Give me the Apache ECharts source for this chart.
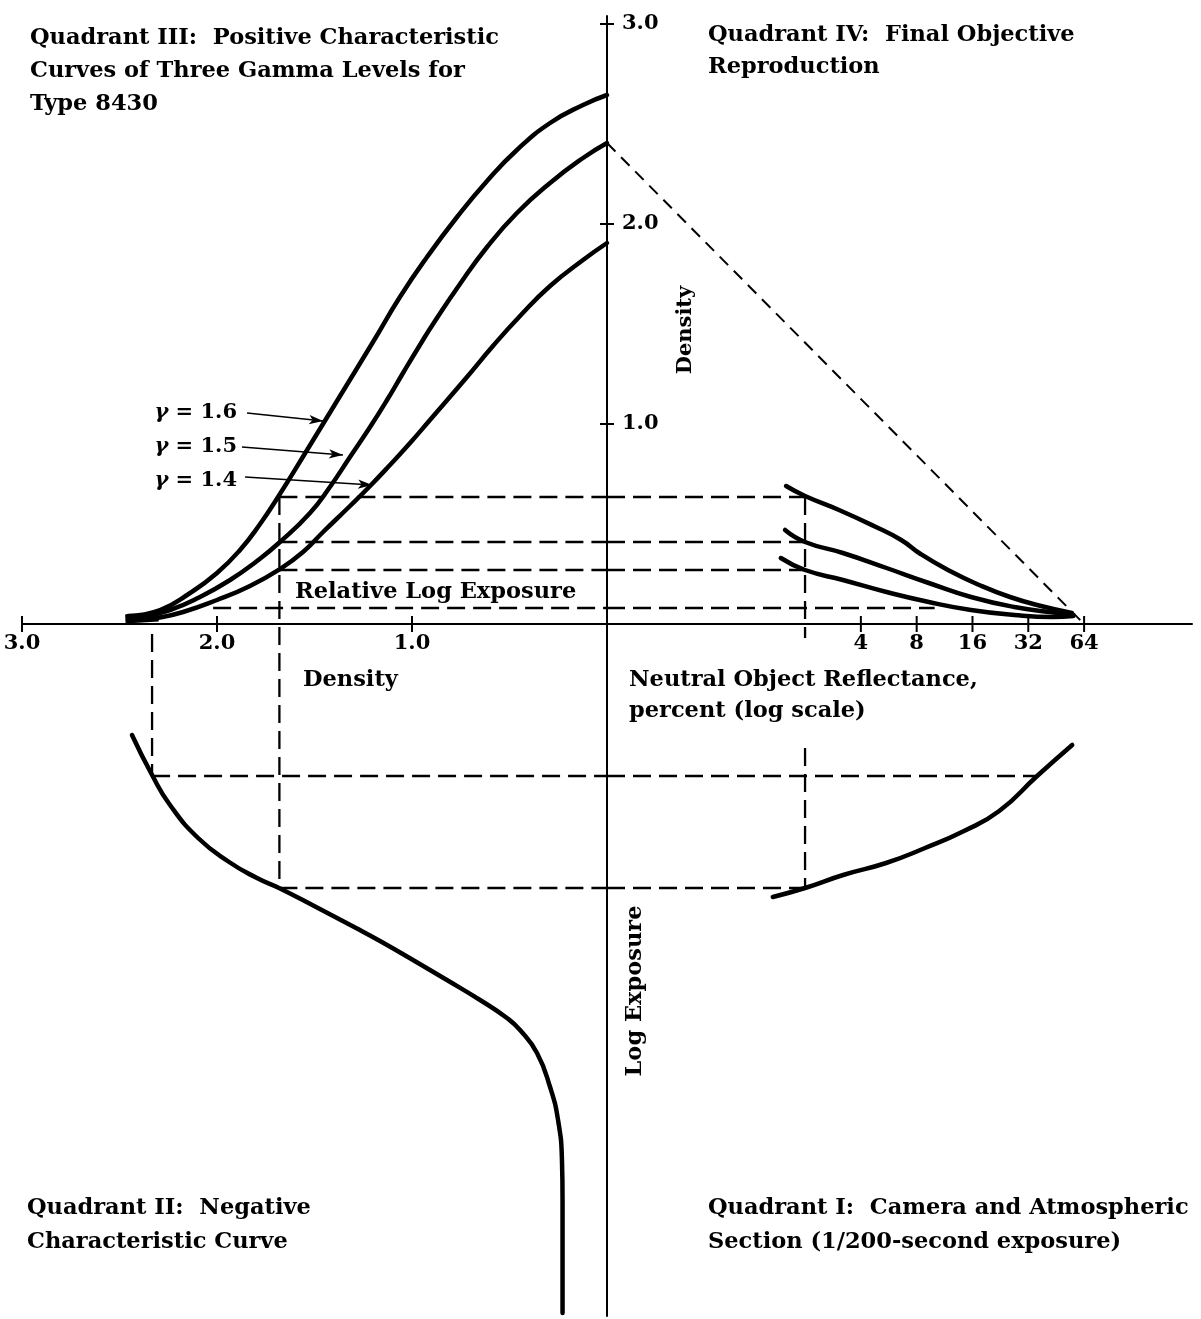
<!DOCTYPE html>
<html>
<head>
<meta charset="utf-8">
<title>Four-quadrant tone reproduction diagram</title>
<script src="https://cdn.jsdelivr.net/npm/echarts@6/dist/echarts.min.js"></script>
<style>
  html, body { margin: 0; padding: 0; background: #fff; }
  #chart { width: 1201px; height: 1319px; }
</style>
</head>
<body>
<div id="chart"></div>
<script>
// Quadrant III: positive curves, relative log exposure (plotted leftwards) vs density
const posLogE16 = [2.456, 2.292, 2.138, 2.0, 1.882, 1.779, 1.687, 1.538, 1.369, 1.2, 1.062, 0.923, 0.769, 0.615, 0.462, 0.292, 0.123, 0]
const posDens16 = [0.04, 0.07, 0.155, 0.255, 0.37, 0.5, 0.635, 0.87, 1.14, 1.41, 1.635, 1.835, 2.035, 2.215, 2.37, 2.505, 2.595, 2.645]
const posLogE15 = [2.421, 2.241, 2.087, 1.933, 1.795, 1.677, 1.523, 1.421, 1.318, 1.215, 1.128, 1.046, 0.95, 0.892, 0.754, 0.615, 0.462, 0.292, 0.123, 0]
const posDens15 = [0.025, 0.07, 0.135, 0.22, 0.315, 0.41, 0.555, 0.685, 0.835, 0.985, 1.12, 1.255, 1.41, 1.5, 1.7, 1.885, 2.055, 2.205, 2.33, 2.405]
const posLogE14 = [2.395, 2.308, 2.174, 2.0, 1.831, 1.677, 1.559, 1.456, 1.318, 1.215, 1.113, 1.01, 0.908, 0.718, 0.585, 0.446, 0.292, 0.123, 0]
const posDens14 = [0.02, 0.03, 0.06, 0.12, 0.19, 0.275, 0.36, 0.46, 0.59, 0.69, 0.795, 0.905, 1.02, 1.235, 1.39, 1.54, 1.69, 1.82, 1.905]
// heavy toe where the three curves start together
const toeLogE = [2.47, 2.3]
const toeDens = [0.025, 0.035]

// Quadrant IV: final reproduction, reflectance (%) vs density
const outRefl16 = [1.58, 2, 3.05, 4.7, 6.6, 8.4, 11.8, 17.4, 25.5, 37.5, 55]
const outDens16 = [0.69, 0.64, 0.57, 0.49, 0.42, 0.35, 0.27, 0.195, 0.135, 0.09, 0.055]
const outRefl15 = [1.56, 2, 3.2, 5.5, 9.3, 15.7, 26.9, 46, 56]
const outDens15 = [0.47, 0.41, 0.355, 0.28, 0.205, 0.135, 0.085, 0.055, 0.045]
const outRefl14 = [1.48, 2, 3.2, 5.5, 9.3, 15.7, 26.9, 43.5, 56]
const outDens14 = [0.33, 0.27, 0.22, 0.16, 0.11, 0.07, 0.045, 0.035, 0.04]
const aimRefl = [64]          // aim line runs from the top of the gamma 1.5 curve to 64 %
const aimDens = [2.405]

// Quadrant II: negative curve, density (leftwards) vs log exposure (downwards)
const negDens = [2.436, 2.333, 2.241, 2.097, 1.938, 1.795, 1.682, 1.492, 1.287, 1.164, 0.995, 0.821, 0.651, 0.513, 0.446, 0.359, 0.292, 0.251, 0.231, 0.228, 0.228]
const negLogE = [0.555, 0.755, 0.905, 1.07, 1.19, 1.27, 1.32, 1.415, 1.52, 1.585, 1.68, 1.78, 1.88, 1.97, 2.03, 2.145, 2.315, 2.48, 2.68, 2.88, 3.445]

// Quadrant I: camera and atmosphere, reflectance (%) vs log exposure (downwards)
const camRefl = [1.34, 2, 3.21, 5.47, 8.88, 14.4, 22.3, 35.7, 55.2]
const camLogE = [1.365, 1.32, 1.255, 1.195, 1.12, 1.035, 0.935, 0.76, 0.605]

// dashed construction lines
const guideDens = [0.635, 0.41, 0.27, 0.08]
const guideFromLogE = [1.68, 1.68, 1.68, 2.02]
const guideToRefl = [2, 2, 2, 10]
const expGuideLogE = [0.76, 1.32]
const expGuideFromDens = [2.333, 1.68]
const expGuideToRefl = [35.7, 2]

// ticks
const densityTicks = [1, 2, 3]
const reflTicks = [4, 8, 16, 32, 64]

// gamma labels and their arrows: [log exposure, density]
const gammaLabels = ['1.6', '1.5', '1.4']
const arrowFrom = [[1.846, 1.055], [1.872, 0.885], [1.856, 0.735]]
const arrowTo = [[1.456, 1.015], [1.354, 0.845], [1.205, 0.695]]

// the log reflectance scale shares the horizontal axis with the density scale
const REF_AT_AXIS = 0.1709
const UNITS_PER_DOUBLING = 0.2862

const FONT = '"DejaVu Serif", serif'
const TEXT_SIZE = 22.5
const chart = echarts.init(document.getElementById('chart'))

const pts = (xs, ys, fx, fy) => xs.map((v, i) => [fx(v), fy(ys[i])])
const neg = v => -v
const id = v => v

const curve = (data, xAxisIndex, extra) => Object.assign({
  type: 'line',
  xAxisIndex,
  data,
  symbol: 'none',
  smooth: 0.5,
  silent: true,
  z: 3,
  lineStyle: { color: '#000', width: 4.5, cap: 'round', join: 'round' },
}, extra || {})

const dashed = (data, xAxisIndex, dash, width) => ({
  type: 'line',
  xAxisIndex,
  data,
  symbol: 'none',
  silent: true,
  z: 2,
  lineStyle: { color: '#000', width: width || 2.3, type: dash || [18, 8] },
})

const series = []

// Quadrant III
series.push(curve(pts(posLogE16, posDens16, neg, id), 0, {
  markLine: {
    silent: true,
    symbol: ['none', 'arrow'],
    symbolSize: [7, 14],
    label: { show: false },
    lineStyle: { color: '#000', width: 1.6, type: 'solid' },
    data: arrowFrom.map((a, i) => [
      { coord: [-a[0], a[1]] },
      { coord: [-arrowTo[i][0], arrowTo[i][1]] },
    ]),
  },
}))
series.push(curve(pts(posLogE15, posDens15, neg, id), 0))
series.push(curve(pts(posLogE14, posDens14, neg, id), 0))
series.push(curve(pts(toeLogE, toeDens, neg, id), 0, {
  smooth: false,
  lineStyle: { color: '#000', width: 9, cap: 'butt' },
}))

// Quadrant IV
series.push(curve(pts(outRefl16, outDens16, id, id), 1))
series.push(curve(pts(outRefl15, outDens15, id, id), 1))
series.push(curve(pts(outRefl14, outDens14, id, id), 1))
series.push(dashed([[REF_AT_AXIS, aimDens[0]], [aimRefl[0], 0]], 1, [12, 8], 2))

// Quadrant II and I
series.push(curve(pts(negDens, negLogE, neg, neg), 0))
series.push(curve(pts(camRefl, camLogE, id, neg), 1))

// horizontal guides above the axis
guideDens.forEach((d, i) => {
  series.push(dashed([[-guideFromLogE[i], d], [0, d]], 0))
  series.push(dashed([[REF_AT_AXIS, d], [guideToRefl[i], d]], 1))
})
// horizontal guides below the axis
expGuideLogE.forEach((e, i) => {
  series.push(dashed([[-expGuideFromDens[i], -e], [0, -e]], 0))
  series.push(dashed([[REF_AT_AXIS, -e], [expGuideToRefl[i], -e]], 1))
})
// vertical guides
series.push(dashed([[-expGuideFromDens[0], -0.05], [-expGuideFromDens[0], -expGuideLogE[0]]], 0))
series.push(dashed([[-guideFromLogE[0], guideDens[0]], [-guideFromLogE[0], -expGuideLogE[1]]], 0))
series.push(dashed([[guideToRefl[0], guideDens[0]], [guideToRefl[0], -0.07]], 1))
series.push(dashed([[guideToRefl[0], -0.62], [guideToRefl[0], -expGuideLogE[1]]], 1))

const tickLabel = { show: true, color: '#000', fontFamily: FONT, fontSize: 21, fontWeight: 'bold' }
const tickItem = { color: '#000', opacity: 1 }

series.push({
  type: 'scatter', xAxisIndex: 0, silent: true, z: 4,
  symbol: 'rect', symbolSize: [2, 16], itemStyle: tickItem,
  data: densityTicks.map(v => [-v, 0]),
  label: Object.assign({ position: 'bottom', distance: 1, formatter: p => Math.abs(p.value[0]).toFixed(1) }, tickLabel),
})
series.push({
  type: 'scatter', xAxisIndex: 0, silent: true, z: 4,
  symbol: 'rect', symbolSize: [14, 2], itemStyle: tickItem,
  data: densityTicks.map(v => [0, v]),
  label: Object.assign({ position: 'right', distance: 8, formatter: p => p.value[1].toFixed(1) }, tickLabel),
})
series.push({
  type: 'scatter', xAxisIndex: 1, silent: true, z: 4,
  symbol: 'rect', symbolSize: [2, 16], itemStyle: tickItem,
  data: reflTicks.map(v => [v, 0]),
  label: Object.assign({ position: 'bottom', distance: 1, formatter: p => String(p.value[0]) }, tickLabel),
})

const txt = (text, x, y, o) => {
  o = o || {}
  return {
    type: 'text', x, y, rotation: o.rotation || 0, silent: true, z: 10,
    style: {
      text, fill: '#000', fontFamily: FONT, fontSize: o.size || TEXT_SIZE, fontWeight: 'bold',
      textAlign: o.align || 'left', textVerticalAlign: 'middle', rich: o.rich,
    },
  }
}

const gammaRich = { g: { fontStyle: 'italic', fontFamily: FONT, fontSize: 21, fontWeight: 'bold' } }

const graphics = [
  txt('Quadrant III:  Positive Characteristic', 30, 38),
  txt('Curves of Three Gamma Levels for', 30, 71),
  txt('Type 8430', 30, 104),
  txt('Quadrant IV:  Final Objective', 708, 35),
  txt('Reproduction', 708, 67),
  txt('Density', 686, 330, { rotation: Math.PI / 2, align: 'center', size: 21 }),
  txt('Relative Log Exposure', 295, 592),
  txt('Density', 303, 680),
  txt('Neutral Object Reflectance,', 629, 680),
  txt('percent (log scale)', 629, 711),
  txt('Log Exposure', 635, 991, { rotation: Math.PI / 2, align: 'center' }),
  txt('Quadrant II:  Negative', 27, 1208),
  txt('Characteristic Curve', 27, 1242),
  txt('Quadrant I:  Camera and Atmospheric', 708, 1208),
  txt('Section (1/200-second exposure)', 708, 1242),
]
gammaLabels.forEach((g, i) => {
  graphics.push(txt('{g|γ} = ' + g, 237, 413 + i * 34, { align: 'right', size: 21, rich: gammaRich }))
})

const option = {
  animation: false,
  backgroundColor: '#fff',
  grid: { left: 22, right: 9, top: 16, bottom: 3 },
  xAxis: [
    {
      type: 'value', min: -3, max: 3,
      axisLine: { onZero: true, lineStyle: { color: '#000', width: 2 } },
      axisTick: { show: false }, axisLabel: { show: false }, splitLine: { show: false },
    },
    {
      type: 'log', logBase: 2, show: false,
      min: REF_AT_AXIS * Math.pow(2, -3 / UNITS_PER_DOUBLING),
      max: REF_AT_AXIS * Math.pow(2, 3 / UNITS_PER_DOUBLING),
      splitLine: { show: false },
    },
  ],
  yAxis: [{
    type: 'value', min: -3.46, max: 3.04,
    axisLine: { onZero: true, onZeroAxisIndex: 0, lineStyle: { color: '#000', width: 2 } },
    axisTick: { show: false }, axisLabel: { show: false }, splitLine: { show: false },
  }],
  graphic: graphics,
  series,
}

chart.setOption(option)
</script>
</body>
</html>
